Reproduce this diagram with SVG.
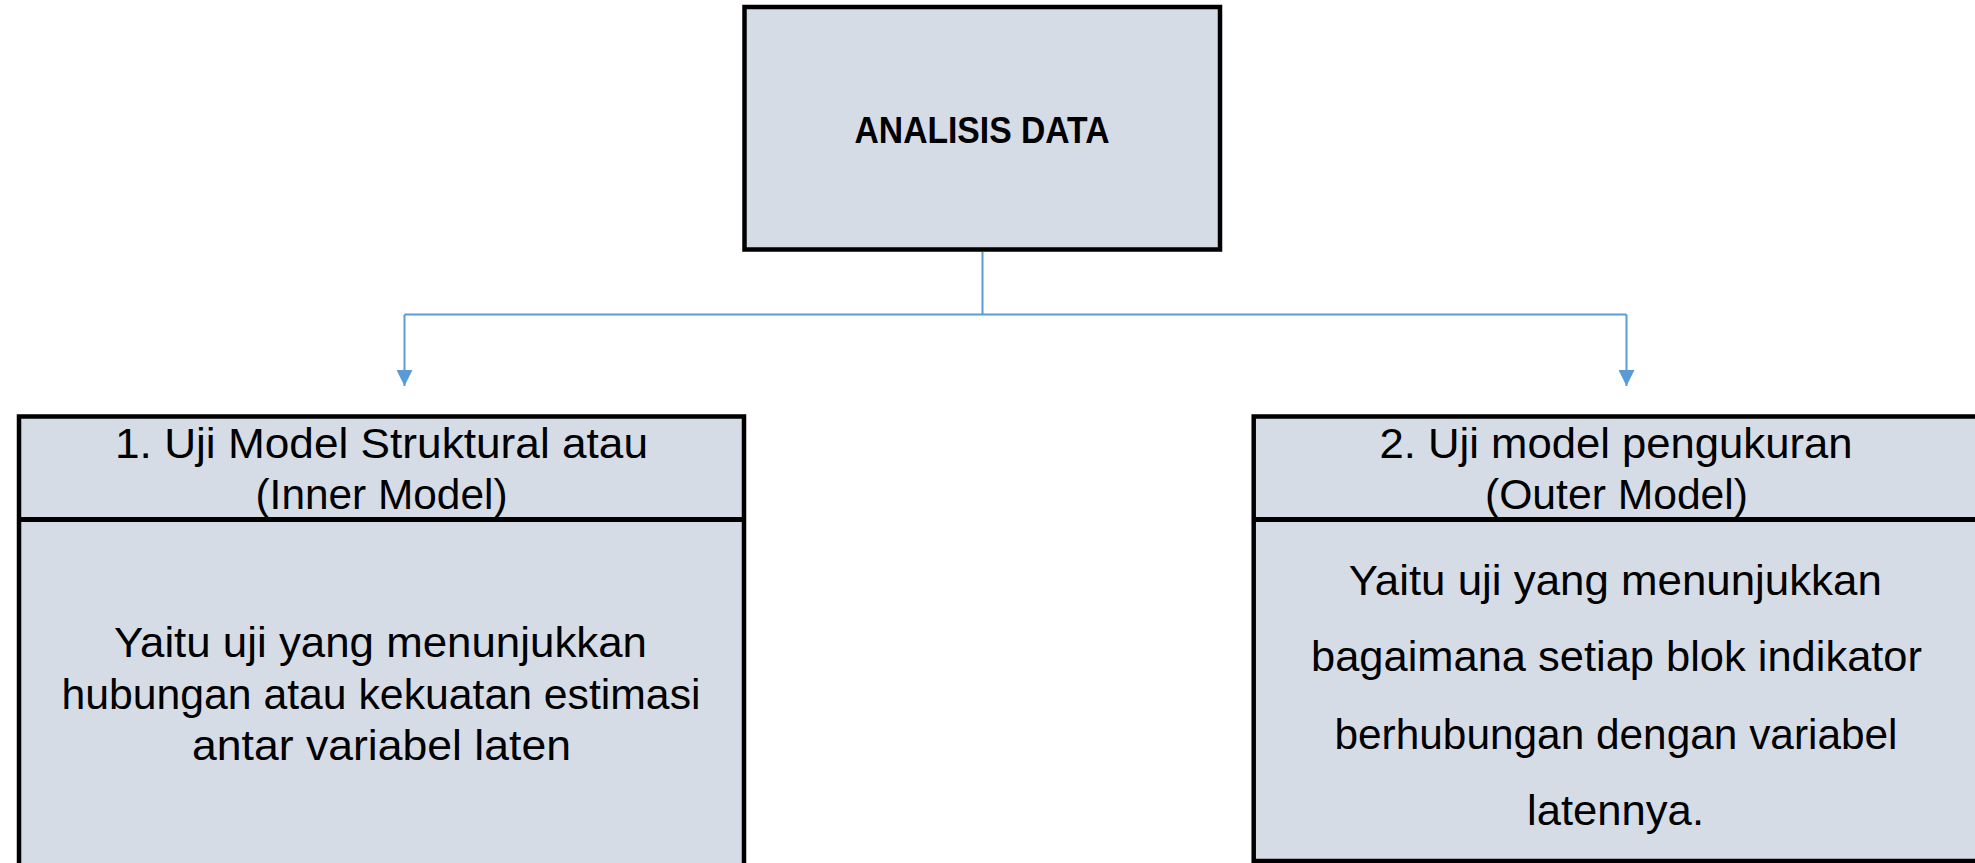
<svg xmlns="http://www.w3.org/2000/svg" width="1975" height="863" viewBox="0 0 1975 863">
<style>
.box{fill:#D6DCE5;stroke:#000;stroke-width:4.5}
.div{stroke:#000;stroke-width:5}
.t{font-family:"Liberation Sans",Arial,sans-serif;font-size:42px;fill:#000;text-anchor:middle}
.b{font-weight:bold;font-size:36px}
.con{fill:none;stroke:#5B9BD5;stroke-width:2}
</style>
<defs>
<marker id="arr" markerWidth="8" markerHeight="8" refX="8" refY="4" orient="auto" markerUnits="strokeWidth">
<path d="M0,0 L8,4 L0,8 Z" fill="#5B9BD5"/>
</marker>
</defs>
<rect width="1975" height="863" fill="#fff"/>
<g id="connectors">
<line class="con" x1="982.5" y1="252" x2="982.5" y2="314.5"/>
<line class="con" x1="404.5" y1="314.5" x2="1626.5" y2="314.5"/>
<line class="con" x1="404.5" y1="314.5" x2="404.5" y2="386" marker-end="url(#arr)"/>
<line class="con" x1="1626.5" y1="314.5" x2="1626.5" y2="386" marker-end="url(#arr)"/>
</g>
<g id="node-analisis">
<rect class="box" x="744.5" y="7" width="475.5" height="242.5"/>
<text class="t b" x="982" y="142.5" textLength="255" lengthAdjust="spacingAndGlyphs">ANALISIS DATA</text>
</g>
<g id="node-inner">
<rect class="box" x="19" y="416.5" width="725" height="470"/>
<line class="div" x1="19" y1="519.5" x2="744" y2="519.5"/>
<text class="t" x="381.5" y="458" textLength="533" lengthAdjust="spacingAndGlyphs">1. Uji Model Struktural atau</text>
<text class="t" x="381.5" y="509" textLength="252" lengthAdjust="spacingAndGlyphs">(Inner Model)</text>
<text class="t" x="380.5" y="657" textLength="533" lengthAdjust="spacingAndGlyphs">Yaitu uji yang menunjukkan</text>
<text class="t" x="381" y="708.5" textLength="639" lengthAdjust="spacingAndGlyphs">hubungan atau kekuatan estimasi</text>
<text class="t" x="381.5" y="759.5" textLength="379" lengthAdjust="spacingAndGlyphs">antar variabel laten</text>
</g>
<g id="node-outer">
<rect class="box" x="1253.7" y="416.5" width="730" height="444.5"/>
<line class="div" x1="1253.7" y1="519.5" x2="1985" y2="519.5"/>
<text class="t" x="1616" y="458" textLength="473" lengthAdjust="spacingAndGlyphs">2. Uji model pengukuran</text>
<text class="t" x="1616.5" y="509" textLength="263" lengthAdjust="spacingAndGlyphs">(Outer Model)</text>
<text class="t" x="1615.3" y="595" textLength="533" lengthAdjust="spacingAndGlyphs">Yaitu uji yang menunjukkan</text>
<text class="t" x="1616.5" y="670.5" textLength="611" lengthAdjust="spacingAndGlyphs">bagaimana setiap blok indikator</text>
<text class="t" x="1616" y="748.5" textLength="563" lengthAdjust="spacingAndGlyphs">berhubungan dengan variabel</text>
<text class="t" x="1615.5" y="825" textLength="177" lengthAdjust="spacingAndGlyphs">latennya.</text>
</g>
</svg>
